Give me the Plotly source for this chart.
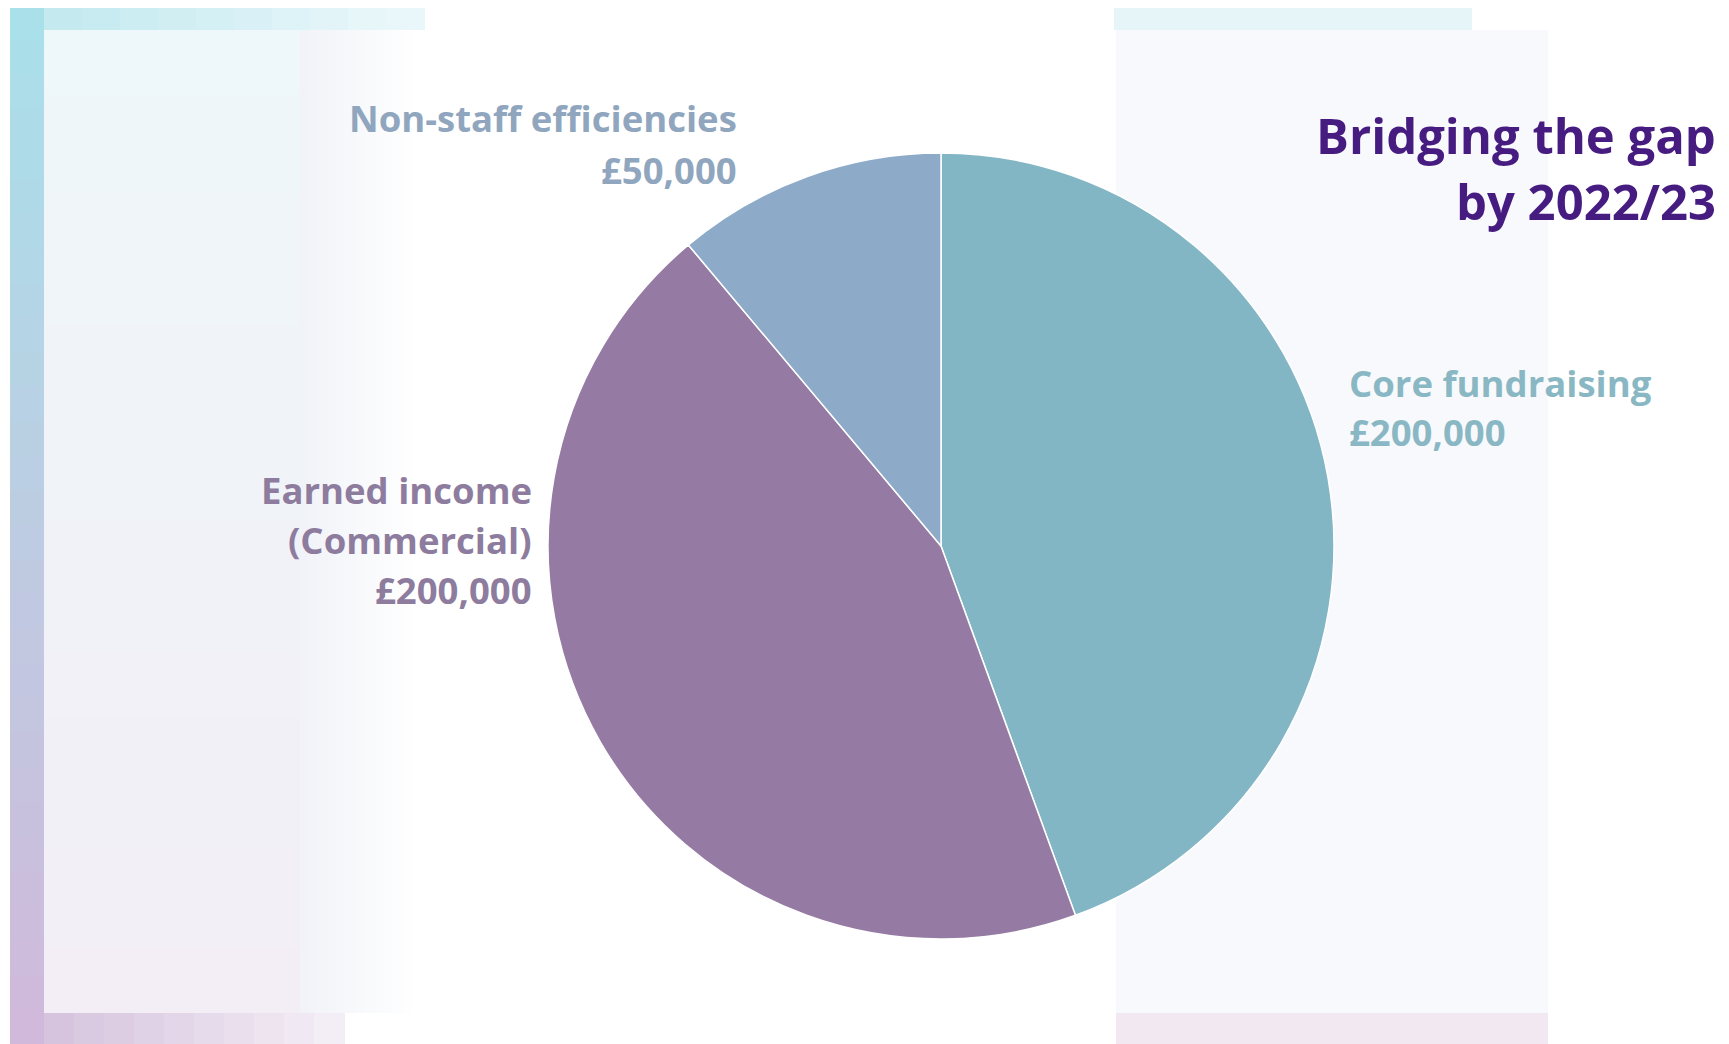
import plotly.graph_objects as go

# ---- data ----
categories = ["Core fundraising", "Earned income (Commercial)", "Non-staff efficiencies"]
values = [200000, 200000, 50000]
label_lines = [["Core fundraising"], ["Earned income", "(Commercial)"], ["Non-staff efficiencies"]]
slice_colors = ["#83B6C5", "#957BA3", "#8DABC8"]
text_colors = ["#89B8C4", "#8D7C9E", "#8FA6BE"]
title_lines = ["Bridging the gap", "by 2022/23"]

W, H = 1729, 1044
OFF = 8  # page body margin offset

fig = go.Figure()
cx, cy, r = 941 - OFF, 546 - OFF, 393
fig.add_trace(go.Pie(
    labels=categories, values=values, sort=False, direction="clockwise", rotation=0,
    marker=dict(colors=slice_colors, line=dict(color="white", width=1.5)),
    textinfo="none", hoverinfo="label+value", showlegend=False,
    domain=dict(x=[(cx - r) / W, (cx + r) / W], y=[1 - (cy + r) / H, 1 - (cy - r) / H]),
))

shapes = []
def rect(x0, y0, x1, y1, color, opacity=1.0):
    x0, x1, y0, y1 = x0 - OFF, x1 - OFF, y0 - OFF, y1 - OFF
    shapes.append(dict(type="rect", xref="paper", yref="paper", layer="below",
                       x0=x0 / W, x1=x1 / W, y0=1 - y1 / H, y1=1 - y0 / H,
                       fillcolor=color, line=dict(width=0), opacity=opacity))

def lerp(c1, c2, t):
    a = [int(c1[i:i + 2], 16) for i in (1, 3, 5)]
    b = [int(c2[i:i + 2], 16) for i in (1, 3, 5)]
    return "#%02x%02x%02x" % tuple(round(a[k] + (b[k] - a[k]) * t) for k in range(3))

n = 30
# inner pale panel (left)
for i in range(n):
    t = i / (n - 1)
    rect(44, 30 + i * (983 / n), 300, 30 + (i + 1) * (983 / n) + 1, lerp("#EEF7FA", "#F3EEF6", t))
for i in range(30):
    t = i / 29
    rect(300 + i * 4, 30, 300 + (i + 1) * 4 + 1, 1013, lerp("#F1F3F8", "#FFFFFF", t))
# right pale panel
rect(1116, 30, 1548, 1013, "#F8F9FC")
# left gradient band
for i in range(n):
    t = i / (n - 1)
    rect(10, 6 + i * ((H - 6) / n), 44, 6 + (i + 1) * ((H - 6) / n) + 1, lerp("#A9E0EA", "#D0B9DA", t))
# top strips
for i in range(10):
    t = i / 9
    rect(44 + i * 38, 6, 44 + (i + 1) * 38 + 1, 30, lerp("#C4EAF0", "#EAF7FA", t))
rect(1114, 6, 1472, 30, "#E6F5F8")
# bottom strips
for i in range(10):
    t = i / 9
    rect(44 + i * 30, 1013, 44 + (i + 1) * 30 + 1, H + OFF, lerp("#D6C4DE", "#F3EDF5", t))
rect(1116, 1013, 1548, H + OFF, "#F1E8F2")

annotations = []
def text(s, x, y, anchor, color, size, weight):
    annotations.append(dict(text=s, x=(x - OFF) / W, y=1 - (y - OFF) / H, xref="paper", yref="paper",
                            xanchor=anchor, yanchor="middle", showarrow=False,
                            font=dict(family="Open Sans", size=size, color=color, weight=weight)))

def money(v):
    return "£{:,}".format(v)

LS = 36.5
LW = 700
# Core fundraising (right)
text(label_lines[0][0], 1347, 383, "left", text_colors[0], LS, LW)
text(money(values[0]), 1347, 432, "left", text_colors[0], LS, LW)
# Earned income (left)
text(label_lines[1][0], 534, 490, "right", text_colors[1], LS, LW)
text(label_lines[1][1], 534, 540, "right", text_colors[1], LS, LW)
text(money(values[1]), 534, 590, "right", text_colors[1], LS, LW)
# Non-staff (top left)
text(label_lines[2][0], 739, 118, "right", text_colors[2], LS, LW)
text(money(values[2]), 739, 170, "right", text_colors[2], LS, LW)
# title
text(title_lines[0], 1718, 135, "right", "#461C80", 49, 700)
text(title_lines[1], 1718, 201, "right", "#461C80", 49, 700)

fig.update_layout(width=W, height=H, margin=dict(l=0, r=0, t=0, b=0),
                  paper_bgcolor="white", plot_bgcolor="white",
                  shapes=shapes, annotations=annotations)
fig.write_html("out.html")
